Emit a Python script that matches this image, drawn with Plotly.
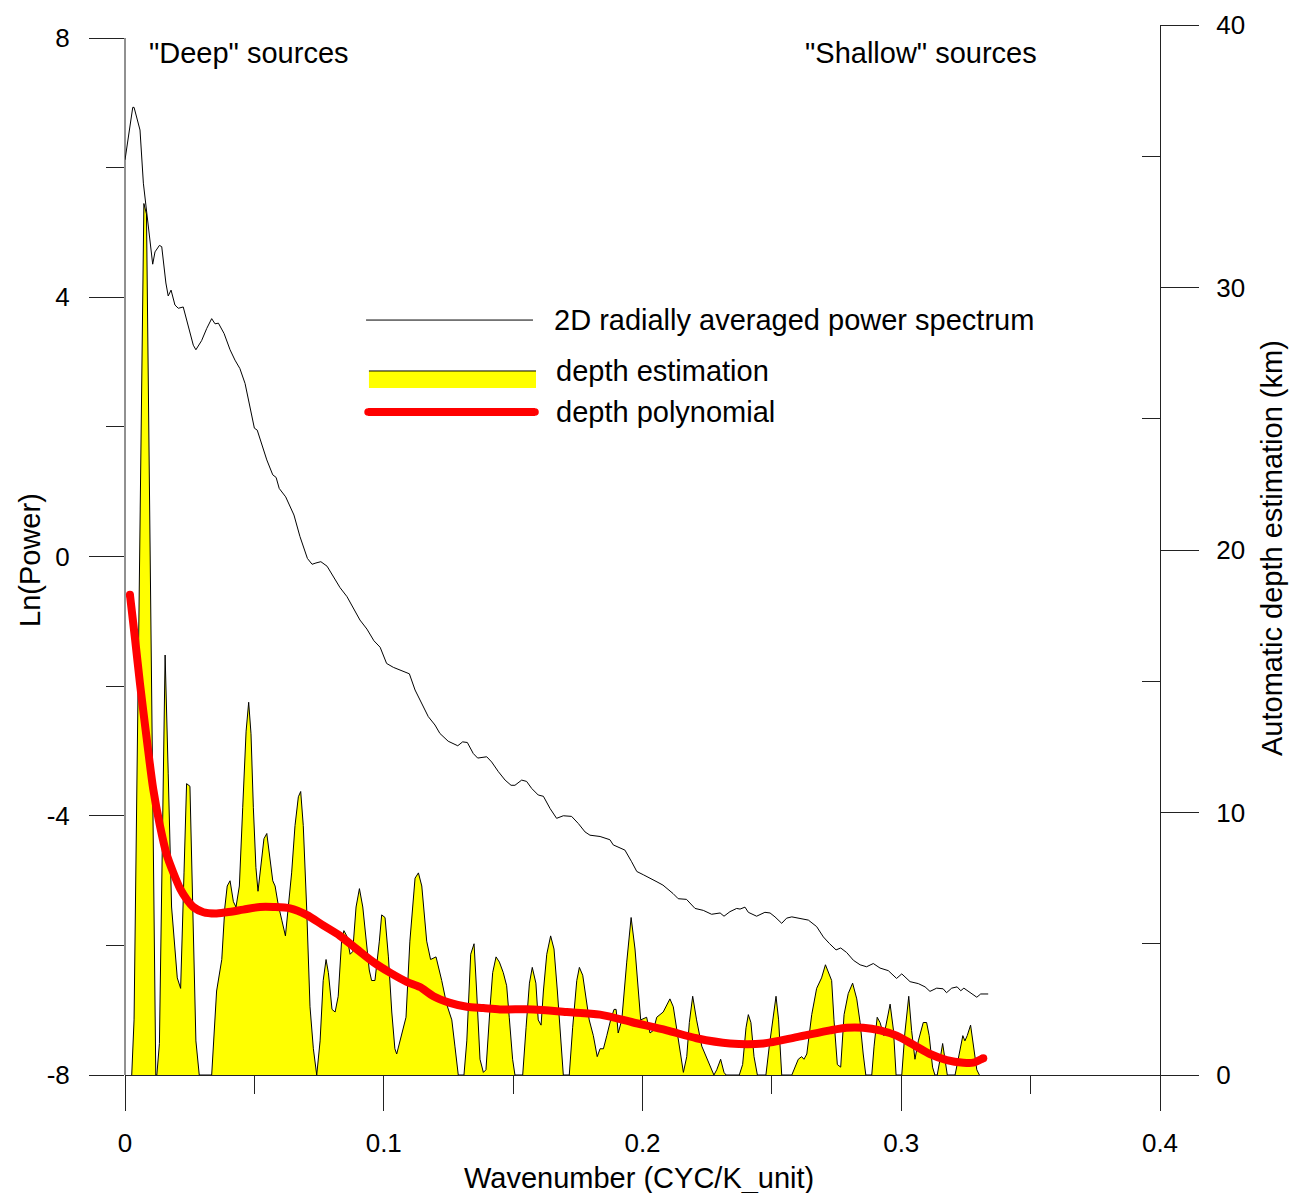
import plotly.graph_objects as go

# ---------------- data ----------------
spec_k = [0.0000, 0.0030, 0.0035, 0.0058, 0.0071, 0.0090, 0.0107, 0.0116, 0.0133, 0.0142,
          0.0158, 0.0167, 0.0178, 0.0193, 0.0206, 0.0225, 0.0245, 0.0264, 0.0274, 0.0296,
          0.0316, 0.0335, 0.0348, 0.0361, 0.0383, 0.0406, 0.0425, 0.0444, 0.0464, 0.0483,
          0.0500, 0.0511, 0.0528, 0.0548, 0.0571, 0.0584, 0.0596, 0.0621, 0.0653, 0.0676,
          0.0705, 0.0723, 0.0738, 0.0757, 0.0781, 0.0804, 0.0831, 0.0858, 0.0881, 0.0908,
          0.0935, 0.0962, 0.0986, 0.1011, 0.1037, 0.1069, 0.1099, 0.1121, 0.1147, 0.1172,
          0.1198, 0.1217, 0.1249, 0.1286, 0.1305, 0.1323, 0.1346, 0.1363, 0.1398, 0.1417,
          0.1443, 0.1469, 0.1492, 0.1507, 0.1533, 0.1552, 0.1572, 0.1597, 0.1617, 0.1643,
          0.1668, 0.1694, 0.1726, 0.1752, 0.1778, 0.1797, 0.1836, 0.1874, 0.1887, 0.1932,
          0.1958, 0.1978, 0.2003, 0.2029, 0.2056, 0.2079, 0.2099, 0.2118, 0.2138, 0.2170,
          0.2203, 0.2235, 0.2267, 0.2300, 0.2315, 0.2338, 0.2364, 0.2377, 0.2396, 0.2409,
          0.2441, 0.2473, 0.2493, 0.2512, 0.2538, 0.2557, 0.2577, 0.2609, 0.2641, 0.2673,
          0.2699, 0.2722, 0.2748, 0.2766, 0.2789, 0.2815, 0.2841, 0.2866, 0.2892, 0.2918,
          0.2950, 0.2982, 0.3002, 0.3034, 0.3066, 0.3092, 0.3111, 0.3137, 0.3162, 0.3175,
          0.3195, 0.3216, 0.3230, 0.3242, 0.3266, 0.3292, 0.3307, 0.3336]
spec_ln = [6.12, 6.93, 6.93, 6.58, 5.76, 5.14, 4.51, 4.70, 4.80, 4.78,
           4.22, 4.02, 4.11, 3.88, 3.83, 3.85, 3.55, 3.26, 3.19, 3.33,
           3.52, 3.67, 3.59, 3.60, 3.44, 3.19, 3.03, 2.90, 2.67, 2.29,
           1.98, 1.95, 1.75, 1.49, 1.26, 1.22, 1.05, 0.92, 0.64, 0.31,
           -0.03, -0.12, -0.10, -0.08, -0.15, -0.30, -0.48, -0.62, -0.78, -0.98,
           -1.12, -1.30, -1.40, -1.65, -1.71, -1.76, -1.81, -2.06, -2.26, -2.47,
           -2.60, -2.73, -2.85, -2.92, -2.86, -2.87, -3.04, -3.11, -3.09, -3.17,
           -3.32, -3.45, -3.53, -3.53, -3.45, -3.47, -3.58, -3.68, -3.70, -3.89,
           -4.04, -4.00, -4.01, -4.12, -4.25, -4.30, -4.32, -4.37, -4.45, -4.53,
           -4.71, -4.86, -4.91, -4.97, -5.02, -5.07, -5.13, -5.20, -5.28, -5.29,
           -5.43, -5.46, -5.52, -5.50, -5.55, -5.48, -5.43, -5.44, -5.41, -5.49,
           -5.55, -5.49, -5.50, -5.56, -5.66, -5.58, -5.56, -5.58, -5.61, -5.71,
           -5.87, -5.97, -6.07, -6.04, -6.11, -6.23, -6.30, -6.33, -6.28, -6.35,
           -6.39, -6.51, -6.44, -6.56, -6.59, -6.64, -6.71, -6.66, -6.67, -6.73,
           -6.66, -6.64, -6.70, -6.66, -6.73, -6.80, -6.75, -6.75]

depth_k = [0.0026, 0.0035, 0.0073, 0.0083, 0.0119, 0.0123, 0.0133, 0.0155, 0.0167, 0.0180,
           0.0202, 0.0215, 0.0228, 0.0238, 0.0251, 0.0258, 0.0274, 0.0287, 0.0335, 0.0354,
           0.0374, 0.0386, 0.0395, 0.0406, 0.0419, 0.0429, 0.0442, 0.0455, 0.0468, 0.0478,
           0.0487, 0.0496, 0.0506, 0.0514, 0.0522, 0.0537, 0.0548, 0.0558, 0.0571, 0.0580,
           0.0592, 0.0606, 0.0620, 0.0631, 0.0644, 0.0657, 0.0670, 0.0679, 0.0689, 0.0702,
           0.0715, 0.0728, 0.0741, 0.0754, 0.0766, 0.0777, 0.0786, 0.0800, 0.0812, 0.0824,
           0.0837, 0.0846, 0.0857, 0.0870, 0.0880, 0.0893, 0.0906, 0.0919, 0.0931, 0.0944,
           0.0953, 0.0966, 0.0983, 0.0992, 0.1005, 0.1018, 0.1031, 0.1043, 0.1050, 0.1069,
           0.1086, 0.1101, 0.1121, 0.1134, 0.1147, 0.1166, 0.1181, 0.1202, 0.1224, 0.1243,
           0.1263, 0.1275, 0.1288, 0.1310, 0.1321, 0.1336, 0.1349, 0.1359, 0.1372, 0.1385,
           0.1395, 0.1411, 0.1421, 0.1434, 0.1447, 0.1462, 0.1475, 0.1485, 0.1498, 0.1507,
           0.1537, 0.1550, 0.1563, 0.1574, 0.1588, 0.1597, 0.1608, 0.1617, 0.1630, 0.1645,
           0.1658, 0.1671, 0.1684, 0.1694, 0.1717, 0.1730, 0.1746, 0.1756, 0.1769, 0.1782,
           0.1794, 0.1810, 0.1825, 0.1836, 0.1849, 0.1862, 0.1877, 0.1890, 0.1898, 0.1906,
           0.1920, 0.1939, 0.1956, 0.1971, 0.1984, 0.1993, 0.2016, 0.2029, 0.2042, 0.2055,
           0.2080, 0.2094, 0.2106, 0.2119, 0.2132, 0.2145, 0.2158, 0.2171, 0.2181, 0.2194,
           0.2209, 0.2229, 0.2242, 0.2261, 0.2276, 0.2287, 0.2302, 0.2315, 0.2323, 0.2374,
           0.2387, 0.2400, 0.2409, 0.2419, 0.2431, 0.2444, 0.2477, 0.2490, 0.2505, 0.2516,
           0.2526, 0.2538, 0.2577, 0.2589, 0.2602, 0.2615, 0.2624, 0.2635, 0.2654, 0.2673,
           0.2692, 0.2707, 0.2718, 0.2731, 0.2740, 0.2753, 0.2766, 0.2779, 0.2795, 0.2812,
           0.2828, 0.2841, 0.2853, 0.2863, 0.2886, 0.2895, 0.2907, 0.2918, 0.2933, 0.2946,
           0.2957, 0.2970, 0.2980, 0.3002, 0.3014, 0.3029, 0.3040, 0.3053, 0.3066, 0.3085,
           0.3098, 0.3108, 0.3121, 0.3130, 0.3139, 0.3150, 0.3160, 0.3169, 0.3178, 0.3208,
           0.3221, 0.3238, 0.3246, 0.3255, 0.3268, 0.3278, 0.3292, 0.3302]
depth_km = [0.0, 2.1, 33.2, 32.8, 0.0, 0.0, 1.2, 16.0, 11.5, 6.4,
            3.7, 3.3, 7.7, 11.1, 11.0, 7.7, 1.3, 0.0, 0.0, 3.2,
            4.4, 6.4, 7.2, 7.4, 6.6, 6.4, 7.2, 10.2, 13.1, 14.2,
            13.0, 10.2, 7.9, 7.0, 7.7, 9.0, 9.2, 8.4, 7.4, 7.2,
            6.5, 5.9, 5.3, 6.4, 7.7, 9.5, 10.6, 10.8, 9.5, 6.4,
            2.6, 1.0, 0.0, 1.3, 3.6, 4.4, 3.9, 2.5, 2.4, 3.0,
            5.1, 5.5, 5.3, 4.6, 4.7, 6.4, 7.1, 6.4, 5.1, 4.0,
            3.6, 3.6, 5.1, 6.1, 6.0, 4.5, 2.4, 1.0, 0.8, 1.6,
            2.2, 5.1, 7.5, 7.7, 7.2, 5.1, 4.4, 4.5, 3.6, 2.7,
            2.1, 1.1, 0.0, 0.0, 1.3, 4.6, 5.0, 3.2, 0.6, 0.1,
            0.2, 2.6, 3.9, 4.5, 4.3, 3.9, 3.4, 2.2, 0.6, 0.0,
            0.0, 1.8, 3.5, 4.1, 3.5, 2.1, 1.9, 3.2, 4.6, 5.3,
            4.8, 3.2, 1.3, 0.0, 0.0, 1.8, 3.6, 4.1, 3.8, 3.0,
            2.1, 1.5, 0.7, 1.0, 1.0, 1.5, 2.1, 2.5, 2.5, 1.6,
            2.1, 4.3, 6.0, 4.8, 3.0, 2.1, 2.2, 1.6, 1.7, 2.2,
            2.4, 2.7, 2.9, 2.6, 1.7, 0.8, 0.1, 0.7, 2.0, 3.0,
            2.1, 1.1, 0.8, 0.4, 0.0, 0.2, 0.6, 0.1, 0.0, 0.0,
            0.4, 1.8, 2.3, 2.0, 0.7, 0.0, 0.0, 1.1, 2.3, 3.0,
            2.1, 0.0, 0.0, 0.3, 0.6, 0.7, 0.6, 0.8, 2.3, 3.3,
            3.7, 4.2, 3.9, 3.6, 2.1, 0.4, 0.3, 2.3, 3.1, 3.5,
            2.9, 2.0, 0.8, 0.0, 0.0, 1.1, 2.2, 2.0, 1.5, 2.1,
            2.7, 1.7, 0.0, 0.0, 1.6, 3.0, 1.7, 0.6, 1.3, 2.0,
            2.0, 1.5, 0.3, 0.0, 0.0, 0.6, 1.2, 0.6, 0.0, 0.0,
            0.6, 1.5, 1.3, 1.5, 1.9, 1.1, 0.2, 0.0]

poly_k = [0.0019, 0.0039, 0.0058, 0.0084, 0.0109, 0.0135, 0.0161, 0.0187, 0.0213, 0.0238,
          0.0264, 0.0303, 0.0348, 0.0393, 0.0457, 0.0522, 0.0573, 0.0638, 0.0702, 0.0766,
          0.0831, 0.0895, 0.0960, 0.1024, 0.1089, 0.1140, 0.1192, 0.1256, 0.1321, 0.1385,
          0.1449, 0.1578, 0.1707, 0.1836, 0.1964, 0.2094, 0.2209, 0.2338, 0.2467, 0.2596,
          0.2725, 0.2789, 0.2853, 0.2918, 0.2982, 0.3047, 0.3111, 0.3176, 0.3240, 0.3278,
          0.3317]
poly_km = [18.3, 16.6, 14.9, 12.8, 10.9, 9.5, 8.4, 7.7, 7.1, 6.7,
           6.4, 6.2, 6.15, 6.2, 6.3, 6.4, 6.4, 6.35, 6.1, 5.7,
           5.3, 4.8, 4.3, 3.9, 3.55, 3.35, 3.0, 2.75, 2.6, 2.55,
           2.5, 2.5, 2.4, 2.3, 2.0, 1.7, 1.4, 1.2, 1.2, 1.44,
           1.7, 1.8, 1.8, 1.7, 1.5, 1.15, 0.8, 0.57, 0.47, 0.47,
           0.64]

x_tickvals = [0, 0.1, 0.2, 0.3, 0.4]
x_ticktext = ["0", "0.1", "0.2", "0.3", "0.4"]
x_minor = [0.05, 0.15, 0.25, 0.35]
yl_tickvals = [-8, -4, 0, 4, 8]
yl_ticktext = ["-8", "-4", "0", "4", "8"]
yl_minor = [-6, -2, 2, 6]
yr_tickvals = [0, 10, 20, 30, 40]
yr_ticktext = ["0", "10", "20", "30", "40"]
yr_minor = [5, 15, 25, 35]

legend_labels = ["2D radially averaged power spectrum", "depth estimation", "depth polynomial"]

# ---------------- figure ----------------
FONT = "Liberation Sans, Arial, sans-serif"
AX = "#222222"

fig = go.Figure()

fig.add_trace(go.Scatter(x=spec_k, y=spec_ln, mode="lines", yaxis="y",
                         line=dict(color="black", width=1), showlegend=False,
                         hoverinfo="skip"))
fig.add_trace(go.Scatter(x=depth_k, y=depth_km, mode="lines", yaxis="y2",
                         fill="tozeroy", fillcolor="#FFFF00",
                         line=dict(color="black", width=1), showlegend=False,
                         hoverinfo="skip"))
fig.add_trace(go.Scatter(x=poly_k, y=poly_km, mode="lines", yaxis="y2",
                         line=dict(color="#FF0000", width=8, shape="spline", smoothing=0.8),
                         showlegend=False, hoverinfo="skip"))
fig.add_trace(go.Scatter(x=[poly_k[0], poly_k[-1]], y=[poly_km[0], poly_km[-1]],
                         mode="markers", yaxis="y2",
                         marker=dict(color="#FF0000", size=8, line=dict(width=0)),
                         showlegend=False, hoverinfo="skip"))

tickfont = dict(family=FONT, size=26, color="black")
txtfont = dict(family=FONT, size=29, color="black")

# the page body has an 8px margin: the figure is sized and placed so that
# the plot area lands at x 125..1160, y 25..1075 of the window
fig.update_layout(
    width=1290, height=1185,
    margin=dict(l=117, r=138, t=17, b=118, autoexpand=False),
    paper_bgcolor="white", plot_bgcolor="white",
    showlegend=False,
    xaxis=dict(range=[0, 0.4], tickvals=x_tickvals, ticktext=x_ticktext, automargin=False,
               ticks="outside", ticklen=35, tickwidth=1, tickcolor=AX,
               showline=True, linecolor=AX, linewidth=1, showgrid=False, zeroline=False,
               tickfont=tickfont, ticklabelstandoff=10,
               minor=dict(tickvals=x_minor, ticks="outside", ticklen=18,
                          tickwidth=1, tickcolor=AX, showgrid=False)),
    yaxis=dict(range=[-8, 8.2006], tickvals=yl_tickvals, ticktext=yl_ticktext, automargin=False,
               ticks="outside", ticklen=35, tickwidth=1, tickcolor=AX,
               showline=False, showgrid=False, zeroline=False,
               tickfont=tickfont, ticklabelstandoff=14,
               minor=dict(tickvals=yl_minor, ticks="outside", ticklen=18,
                          tickwidth=1, tickcolor=AX, showgrid=False)),
    yaxis2=dict(range=[0, 40], overlaying="y", side="right", automargin=False,
                tickvals=yr_tickvals, ticktext=yr_ticktext,
                ticks="outside", ticklen=38, tickwidth=1, tickcolor=AX,
                showline=True, linecolor=AX, linewidth=1, showgrid=False, zeroline=False,
                tickfont=tickfont, ticklabelstandoff=12,
                minor=dict(tickvals=yr_minor, ticks="inside", ticklen=18,
                           tickwidth=1, tickcolor=AX, showgrid=False)),
)

# left axis line from -8 to 8
fig.add_shape(type="line", xref="paper", yref="y", x0=0, x1=0, y0=-8, y1=8,
              line=dict(color=AX, width=1))

# legend drawn inside the plot
fig.add_shape(type="line", xref="paper", yref="paper", x0=0.2329, x1=0.3942, y0=0.719, y1=0.719,
              line=dict(color="black", width=1))
fig.add_shape(type="rect", xref="paper", yref="paper", x0=0.2357, x1=0.3971, y0=0.6543, y1=0.6705,
              line=dict(width=0), fillcolor="#FFFF00")
fig.add_shape(type="line", xref="paper", yref="paper", x0=0.2357, x1=0.3971, y0=0.6705, y1=0.6705,
              line=dict(color="black", width=1))
fig.add_shape(type="line", xref="paper", yref="paper", x0=0.2349, x1=0.3961, y0=0.6314, y1=0.6314,
              line=dict(color="#FF0000", width=8))
for xc in (0.2349, 0.3961):
    fig.add_shape(type="circle", xref="paper", yref="paper",
                  x0=xc - 0.0037, x1=xc + 0.0037, y0=0.6314 - 0.00365, y1=0.6314 + 0.00365,
                  line=dict(width=0), fillcolor="#FF0000")

legend_y = [0.719, 0.6705, 0.6314]
legend_x = [0.4126, 0.4145, 0.4145]
for lab, lx, ly in zip(legend_labels, legend_x, legend_y):
    fig.add_annotation(text=lab, xref="paper", yref="paper", x=lx, y=ly,
                       xanchor="left", yanchor="middle", showarrow=False, font=txtfont)

fig.add_annotation(text='"Deep" sources', xref="paper", yref="paper", x=0.0213, y=0.9733,
                   xanchor="left", yanchor="middle", showarrow=False, font=txtfont)
fig.add_annotation(text='"Shallow" sources', xref="paper", yref="paper", x=0.6551, y=0.9733,
                   xanchor="left", yanchor="middle", showarrow=False, font=txtfont)

# axis titles
fig.add_annotation(text="Wavenumber (CYC/K_unit)", xref="paper", yref="paper", x=0.4966, y=-0.0981,
                   xanchor="center", yanchor="middle", showarrow=False, font=txtfont)
fig.add_annotation(text="Ln(Power)", xref="paper", yref="paper", x=-0.0918, y=0.4905,
                   xanchor="center", yanchor="middle", showarrow=False, font=txtfont, textangle=-90)
fig.add_annotation(text="Automatic depth estimation (km)", xref="paper", yref="paper", x=1.1082, y=0.5019,
                   xanchor="center", yanchor="middle", showarrow=False, font=txtfont, textangle=-90)

fig.write_html("out.html")
